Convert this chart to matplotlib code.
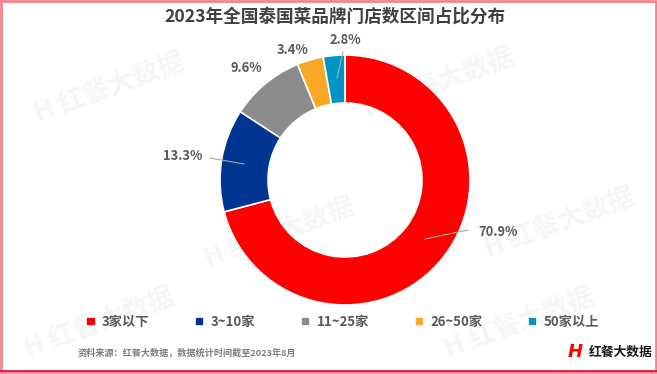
import matplotlib.pyplot as plt
from matplotlib.patches import Rectangle

plt.rcParams['font.family'] = ['Noto Sans CJK SC', 'DejaVu Sans']

# data
categories = ['3家以下', '3~10家', '11~25家', '26~50家', '50家以上']
shares = [70.9, 13.3, 9.6, 3.4, 2.8]
colors = ['#FF0000', '#003591', '#8C8C8C', '#F9A825', '#0095C4']
title = '2023年全国泰国菜品牌门店数区间占比分布'
source = '资料来源：红餐大数据，数据统计时间截至2023年8月'

W, H = 657, 374
fig = plt.figure(figsize=(W / 100, H / 100), dpi=100)
ax = fig.add_axes([0, 0, 1, 1])

# faint watermarks
for wx, wy in [(110, 285), (440, 290), (280, 140), (560, 150), (100, 50), (520, 50)]:
    ax.text(wx, wy, 'H 红餐大数据', fontsize=19, fontweight='bold', color='#F6F6F6',
            rotation=20, ha='center', va='center', zorder=0)

cx, cy, r = 345, H - 180, 125
wedges, _ = ax.pie(shares, colors=colors, startangle=90, counterclock=False,
                   radius=r, center=(cx, cy),
                   wedgeprops=dict(width=48, edgecolor='white', linewidth=1.2))
ax.set_xlim(0, W)
ax.set_ylim(0, H)
ax.set_aspect('auto')
ax.axis('off')

# labels with leader lines (positions in image pixels, y down)
label_pos = [((498, 232), (425, 239), (468, 230)),
             ((183, 156), (244, 164), (210, 158)),
             ((246, 68), None, None),
             ((293, 50), None, None),
             ((345, 40), (337, 78), (343, 52))]
for val, (tp, p0, p1) in zip(shares, label_pos):
    ax.text(tp[0], H - tp[1], f'{val}%', fontsize=9.3, fontweight='bold',
            color='#595959', ha='center', va='center')
    if p0 is not None:
        ax.plot([p0[0], p1[0]], [H - p0[1], H - p1[1]], color='#A6A6A6', lw=0.8)

ax.text(335, H - 17, title, fontsize=12.7, fontweight='bold',
        color='#404040', ha='center', va='center')

leg = fig.legend(wedges, categories, loc='center', bbox_to_anchor=(0.522, 1 - 322 / H),
                 ncol=5, frameon=False, handlelength=0.7, handleheight=0.7,
                 handletextpad=0.5, columnspacing=3.45,
                 prop=dict(size=9.5, weight='bold'))
for t in leg.get_texts():
    t.set_color('#595959')

ax.text(78, H - 352, source, fontsize=6.6, fontweight='bold', color='#7F7F7F',
        ha='left', va='center')

# logo
ax.text(575, H - 352, 'H', fontsize=13, fontweight='bold', fontstyle='italic',
        color='#FF0000', ha='center', va='center', family='DejaVu Sans')
ax.text(589, H - 352, '红餐大数据', fontsize=9.2, fontweight='bold',
        color='#1A1A1A', ha='left', va='center')

# frame
ax.add_patch(Rectangle((1, 2), W - 2.5, H - 3, fill=False,
                       edgecolor='#F5828C', lw=2, zorder=5))
ax.plot([0, W], [3, 3], color='#C8102E', lw=1.2, zorder=6)

fig.savefig('out.png', dpi=100)
